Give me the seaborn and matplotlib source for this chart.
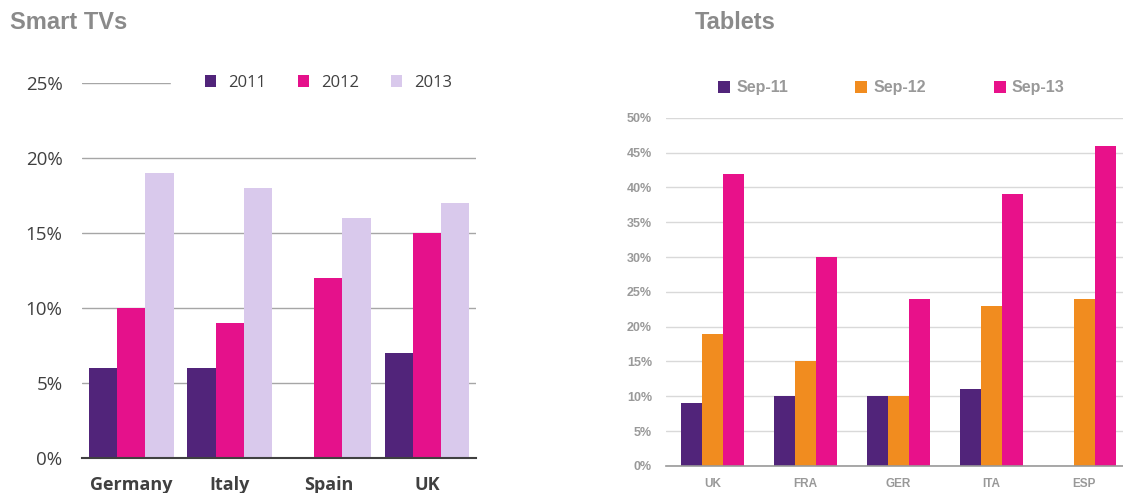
import matplotlib
matplotlib.use("Agg")
import matplotlib.pyplot as plt
import seaborn as sns
import pandas as pd
from matplotlib.ticker import FuncFormatter

# Smart TVs panel
tv_countries = ["Germany", "Italy", "Spain", "UK"]
tv_years = ["2011", "2012", "2013"]
tv_2011 = [6, 6, 0, 7]
tv_2012 = [10, 9, 12, 15]
tv_2013 = [19, 18, 16, 17]
tv_colors = ["#51247a", "#e5118b", "#d9c9ec"]

# Tablets panel
tab_countries = ["UK", "FRA", "GER", "ITA", "ESP"]
tab_periods = ["Sep-11", "Sep-12", "Sep-13"]
tab_sep11 = [9, 10, 10, 11, 0]
tab_sep12 = [19, 15, 10, 23, 24]
tab_sep13 = [42, 30, 24, 39, 46]
tab_colors = ["#51247a", "#f18c1f", "#e8118a"]

tv_df = pd.DataFrame({
    "country": tv_countries * 3,
    "year": [y for y in tv_years for _ in tv_countries],
    "value": tv_2011 + tv_2012 + tv_2013,
})
tab_df = pd.DataFrame({
    "country": tab_countries * 3,
    "period": [p for p in tab_periods for _ in tab_countries],
    "value": tab_sep11 + tab_sep12 + tab_sep13,
})

sns.set_theme(style="white")
plt.rcParams["font.family"] = ["Liberation Sans", "DejaVu Sans"]

fig = plt.figure(figsize=(11.23, 4.93), dpi=100)

# ---------------- Smart TVs ----------------
ax1 = fig.add_axes([0.073, 0.071, 0.351, 0.761])
sns.barplot(data=tv_df, x="country", y="value", hue="year", palette=tv_colors,
            width=0.86, gap=0, linewidth=0, saturation=1, ax=ax1)
ax1.set_ylim(0, 25)
ax1.set_yticks([0, 5, 10, 15, 20, 25])
ax1.yaxis.set_major_formatter(FuncFormatter(lambda v, p: f"{v:.0f}%"))
ax1.set_xlabel("")
ax1.set_ylabel("")
ax1.grid(axis="y", color="#a6a6a6", linewidth=1)
ax1.set_axisbelow(True)
for s in ["left", "right", "top"]:
    ax1.spines[s].set_visible(False)
ax1.spines["bottom"].set_color("#404040")
ax1.spines["bottom"].set_linewidth(1.5)
ax1.tick_params(axis="y", length=0, pad=14, labelsize=13.5, labelcolor="#404040")
ax1.tick_params(axis="x", length=0, pad=13, labelcolor="#404040")
for lbl in ax1.get_yticklabels():
    lbl.set_family(["Open Sans", "DejaVu Sans"])
for lbl in ax1.get_xticklabels():
    lbl.set_family(["Open Sans", "DejaVu Sans"])
    lbl.set_fontweight("bold")
    lbl.set_fontsize(13)
leg1 = ax1.legend(loc="center", bbox_to_anchor=(0.625, 1.0), ncol=3, frameon=True,
                  facecolor="white", edgecolor="white", framealpha=1,
                  handlelength=0.7, handleheight=0.7, columnspacing=1.9,
                  handletextpad=0.7, borderpad=2.0,
                  prop={"family": ["Open Sans", "DejaVu Sans"], "size": 12})
for t in leg1.get_texts():
    t.set_color("#404040")
fig.text(0.009, 0.955, "Smart TVs", fontsize=17, fontweight="bold",
         color="#8a8a8a", ha="left", va="center")

# ---------------- Tablets ----------------
ax2 = fig.add_axes([0.593, 0.055, 0.414, 0.706])
sns.barplot(data=tab_df, x="country", y="value", hue="period", palette=tab_colors,
            width=0.67, gap=0, linewidth=0, saturation=1, ax=ax2)
ax2.set_ylim(0, 50)
ax2.set_yticks(range(0, 55, 5))
ax2.yaxis.set_major_formatter(FuncFormatter(lambda v, p: f"{v:.0f}%"))
ax2.set_xlabel("")
ax2.set_ylabel("")
ax2.grid(axis="y", color="#d9d9d9", linewidth=1)
ax2.set_axisbelow(True)
for s in ["left", "right", "top"]:
    ax2.spines[s].set_visible(False)
ax2.spines["bottom"].set_color("#999999")
ax2.spines["bottom"].set_linewidth(1.2)
ax2.tick_params(axis="y", length=0, pad=10, labelsize=9, labelcolor="#999999")
ax2.tick_params(axis="x", length=0, pad=9, labelsize=8.5, labelcolor="#999999")
for lbl in ax2.get_yticklabels() + ax2.get_xticklabels():
    lbl.set_fontweight("bold")
leg2 = ax2.legend(loc="center", bbox_to_anchor=(0.485, 1.086), ncol=3, frameon=False,
                  handlelength=0.75, handleheight=0.75, columnspacing=4.2,
                  handletextpad=0.4,
                  prop={"weight": "bold", "size": 11.5})
for t in leg2.get_texts():
    t.set_color("#999999")
fig.text(0.655, 0.955, "Tablets", fontsize=17, fontweight="bold",
         color="#8a8a8a", ha="center", va="center")

fig.savefig("out.png", dpi=100)
